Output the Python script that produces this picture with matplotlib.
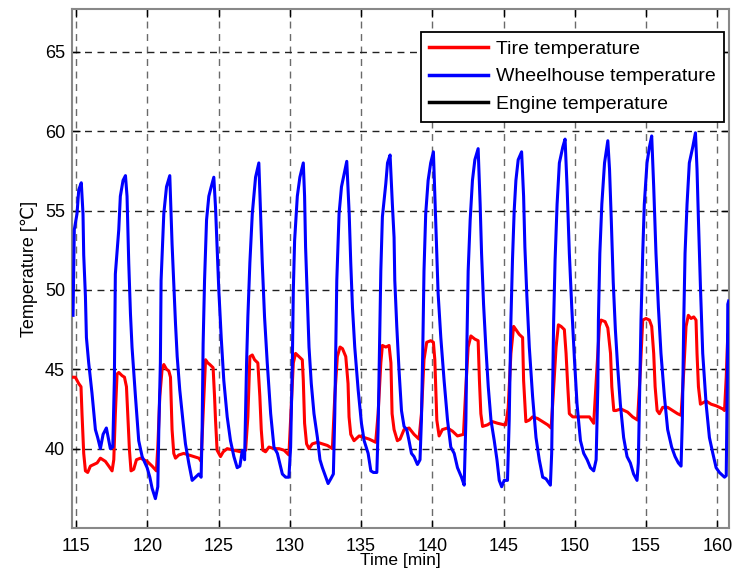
import matplotlib
matplotlib.use("Agg")
import matplotlib.pyplot as plt

plt.rcParams['font.family'] = ['Liberation Sans', 'DejaVu Sans']

# Wheelhouse temperature (blue)
wheel_t = [114.79, 114.84, 114.88, 115.07, 115.19, 115.37, 115.49, 115.54, 115.66, 115.73, 115.89, 116.12, 116.36, 116.52, 116.71, 116.90, 117.13, 117.30, 117.41, 117.58,
           117.69, 117.76, 118.00, 118.11, 118.30, 118.47, 118.58, 118.70, 118.82, 118.93, 119.17, 119.40, 119.64, 119.99, 120.18, 120.34, 120.57, 120.74,
           120.81, 120.92, 120.97, 121.16, 121.35, 121.58, 121.74, 121.86, 121.98, 122.10, 122.28, 122.52, 122.68, 122.92, 123.15, 123.39, 123.62, 123.78,
           123.85, 123.92, 124.02, 124.16, 124.32, 124.49, 124.67, 124.79, 124.90, 125.02, 125.19, 125.37, 125.61, 125.84, 126.08, 126.31, 126.50, 126.67, 126.83,
           126.97, 127.06, 127.20, 127.37, 127.60, 127.83, 127.95, 128.07, 128.23, 128.42, 128.66, 128.89, 129.13, 129.48, 129.71, 129.94,
           130.06, 130.18, 130.25, 130.34, 130.53, 130.71, 130.95, 131.04, 131.11, 131.23, 131.35, 131.51, 131.70, 131.94, 132.12, 132.29, 132.53, 132.69, 132.88, 133.06,
           133.16, 133.23, 133.30, 133.46, 133.63, 133.86, 134.00, 134.17, 134.28, 134.40, 134.56, 134.80, 135.03, 135.22, 135.50, 135.69, 135.87, 136.11,
           136.20, 136.32, 136.39, 136.50, 136.74, 136.86, 137.04, 137.20, 137.32, 137.37, 137.51, 137.67, 137.84, 138.02, 138.21, 138.37, 138.54, 138.72, 138.96, 139.14,
           139.24, 139.33, 139.42, 139.54, 139.71, 139.89, 140.08, 140.20, 140.32, 140.41, 140.60, 140.83, 141.07, 141.30, 141.54, 141.77, 142.05, 142.24,
           142.36, 142.42, 142.52, 142.66, 142.82, 142.99, 143.22, 143.36, 143.46, 143.60, 143.76, 143.93, 144.12, 144.35, 144.54, 144.70, 144.87, 145.05, 145.28,
           145.40, 145.52, 145.63, 145.75, 145.87, 146.03, 146.27, 146.41, 146.50, 146.64, 146.81, 147.04, 147.28, 147.51, 147.75, 147.98, 148.29,
           148.38, 148.45, 148.52, 148.62, 148.76, 148.92, 149.16, 149.32, 149.46, 149.62, 149.79, 149.98, 150.16, 150.40, 150.63, 150.87, 151.10, 151.33, 151.50,
           151.62, 151.66, 151.76, 151.90, 152.09, 152.32, 152.44, 152.56, 152.70, 152.85, 153.00, 153.20, 153.43, 153.67, 153.90, 154.13, 154.37,
           154.46, 154.56, 154.65, 154.77, 154.88, 155.07, 155.24, 155.40, 155.54, 155.70, 155.87, 156.05, 156.29, 156.52, 156.80, 157.04, 157.27, 157.46,
           157.55, 157.65, 157.74, 157.88, 158.04, 158.28, 158.47, 158.58, 158.68, 158.82, 158.98, 159.22, 159.45, 159.69, 159.92, 160.15, 160.51, 160.63,
           160.70, 160.74, 160.80]
wheel_T = [48.4, 51.2, 53.8, 54.8, 56.3, 56.75, 54.8, 52.2, 49.6, 47.0, 45.4, 43.5, 41.2, 40.7, 40.0, 40.9, 41.3, 40.5, 40.0, 40.1,
           44.3, 51.0, 53.8, 55.9, 56.9, 57.2, 55.9, 51.7, 48.5, 46.4, 43.3, 40.5, 39.5, 38.8, 38.2, 37.5, 36.85, 37.6,
           41.2, 45.4, 50.6, 54.8, 56.5, 57.2, 52.9, 50.4, 47.9, 45.8, 43.7, 41.6, 40.3, 39.05, 38.0, 38.2, 38.4, 38.2,
           41.2, 46.6, 50.6, 54.4, 55.9, 56.5, 57.1, 55.2, 52.7, 50.0, 47.0, 44.3, 42.0, 40.5, 39.5, 38.8, 38.9, 39.9, 39.3,
           45.4, 48.3, 51.7, 54.8, 57.1, 58.0, 54.8, 51.7, 48.3, 45.4, 42.2, 40.1, 39.7, 38.4, 38.2, 38.2,
           40.1, 45.4, 50.0, 53.1, 55.9, 57.1, 58.0, 55.9, 52.7, 49.6, 46.4, 44.1, 42.2, 40.7, 39.3, 38.8, 38.2, 37.8, 38.1, 38.4,
           42.2, 46.4, 50.6, 54.8, 56.5, 57.5, 58.1, 54.8, 51.7, 48.9, 46.4, 43.7, 41.6, 40.5, 39.7, 38.6, 38.5, 38.5,
           41.2, 47.5, 51.2, 54.6, 56.7, 58.0, 58.5, 55.4, 53.3, 50.6, 47.7, 44.9, 42.4, 41.4, 41.2, 40.5, 39.7, 39.5, 39.0, 39.3,
           41.8, 46.0, 51.2, 54.8, 56.9, 58.0, 58.7, 55.4, 52.3, 49.8, 47.0, 44.3, 41.8, 40.1, 39.7, 38.8, 38.2, 37.7,
           41.8, 46.0, 51.2, 54.4, 56.9, 58.2, 58.9, 55.4, 52.3, 49.1, 46.4, 43.9, 41.8, 40.5, 39.3, 38.0, 37.6, 38.0, 38.0,
           41.8, 48.1, 51.9, 55.0, 56.9, 58.2, 58.7, 55.9, 52.7, 49.6, 46.4, 43.3, 40.7, 39.3, 38.2, 38.1, 37.7,
           39.7, 43.9, 48.1, 51.9, 55.4, 58.0, 59.0, 59.5, 56.5, 52.3, 48.9, 45.6, 42.8, 40.5, 39.7, 39.3, 38.8, 38.6, 39.3,
           43.9, 48.1, 52.3, 55.4, 58.0, 59.4, 57.6, 54.5, 50.5, 47.5, 45.3, 42.8, 40.7, 39.5, 39.1, 38.4, 38.0,
           39.1, 43.9, 48.1, 52.3, 55.4, 58.0, 59.0, 59.7, 56.5, 52.3, 48.9, 46.0, 43.3, 41.2, 40.1, 39.5, 39.1, 38.9,
           41.8, 48.1, 52.3, 55.4, 58.0, 59.0, 59.9, 57.6, 54.4, 50.2, 46.0, 42.8, 40.7, 39.7, 38.8, 38.5, 38.2, 38.3,
           43.9, 49.1, 49.3]

# Tire temperature (red)
tire_t = [114.79, 114.95, 115.19, 115.35, 115.42, 115.54, 115.66, 115.82, 116.01, 116.48, 116.71, 117.06, 117.30, 117.53, 117.65,
          117.76, 117.88, 118.00, 118.23, 118.40, 118.54, 118.63, 118.75, 118.86, 119.05, 119.24, 119.52, 119.75, 119.99, 120.34, 120.64,
          120.74, 120.88, 121.04, 121.16, 121.35, 121.51, 121.63, 121.74, 121.86, 121.98, 122.21, 122.56, 122.92, 123.27, 123.62, 123.78,
          123.92, 124.09, 124.25, 124.39, 124.62, 124.72, 124.79, 124.90, 125.14, 125.33, 125.61, 126.08, 126.55, 126.90,
          127.06, 127.20, 127.37, 127.53, 127.76, 127.90, 128.00, 128.11, 128.30, 128.54, 128.89, 129.24, 129.60, 129.71, 129.94,
          130.11, 130.25, 130.41, 130.64, 130.88, 130.95, 131.04, 131.18, 131.35, 131.58, 131.94, 132.29, 132.64, 132.99,
          133.16, 133.34, 133.53, 133.70, 133.93, 134.09, 134.16, 134.28, 134.51, 134.87, 135.22, 135.57, 136.03,
          136.20, 136.39, 136.50, 136.74, 136.97, 137.10, 137.18, 137.32, 137.55, 137.74, 138.02, 138.37, 138.72, 139.07,
          139.24, 139.42, 139.61, 139.89, 140.08, 140.18, 140.32, 140.48, 140.71, 141.07, 141.42, 141.77, 142.19,
          142.36, 142.52, 142.71, 142.99, 143.22, 143.31, 143.41, 143.53, 143.88, 144.23, 144.58, 145.05, 145.16,
          145.33, 145.52, 145.71, 145.87, 146.10, 146.34, 146.41, 146.50, 146.57, 146.81, 147.04, 147.39, 147.75, 148.10, 148.34,
          148.45, 148.69, 148.85, 149.04, 149.27, 149.39, 149.51, 149.62, 149.86, 150.21, 150.68, 151.03, 151.33,
          151.62, 151.73, 151.85, 152.13, 152.32, 152.51, 152.60, 152.74, 152.89, 153.24, 153.71, 154.06, 154.41,
          154.60, 154.77, 155.00, 155.24, 155.40, 155.54, 155.64, 155.78, 155.94, 156.17, 156.52, 156.87, 157.22, 157.46,
          157.65, 157.81, 157.97, 158.16, 158.35, 158.51, 158.58, 158.68, 158.82, 159.22, 159.57, 159.92, 160.39, 160.51,
          160.63, 160.74, 160.86]
tire_T = [44.5, 44.5, 44.1, 43.9, 42.2, 39.7, 38.6, 38.5, 38.9, 39.1, 39.4, 39.2, 38.9, 38.6, 39.3,
          42.2, 44.7, 44.8, 44.6, 44.5, 43.9, 42.2, 39.9, 38.6, 38.7, 39.3, 39.4, 39.3, 39.2, 38.9, 38.6,
          40.1, 43.3, 45.0, 45.3, 45.0, 44.9, 44.5, 41.2, 39.7, 39.4, 39.6, 39.7, 39.6, 39.5, 39.4, 39.2,
          42.2, 45.6, 45.4, 45.3, 45.1, 43.3, 41.8, 39.9, 39.5, 39.8, 40.0, 39.9, 39.8, 39.9,
          42.0, 45.8, 45.9, 45.6, 45.4, 43.3, 41.2, 39.9, 39.8, 40.1, 40.0, 40.0, 39.9, 39.8, 39.6,
          42.8, 45.4, 46.0, 45.8, 45.6, 44.3, 41.6, 40.3, 40.0, 40.3, 40.4, 40.3, 40.2, 40.0,
          43.3, 45.8, 46.4, 46.3, 45.8, 44.1, 42.0, 40.9, 40.5, 40.8, 40.7, 40.6, 40.4,
          42.2, 45.4, 46.5, 46.4, 46.5, 45.4, 42.2, 41.2, 40.5, 40.6, 41.2, 41.3, 40.9, 40.6,
          42.2, 45.6, 46.7, 46.8, 46.7, 45.6, 41.8, 40.8, 41.2, 41.3, 41.1, 40.8, 40.9,
          43.9, 46.4, 47.1, 46.9, 46.8, 44.3, 42.2, 41.4, 41.5, 41.7, 41.6, 41.5, 41.5,
          42.6, 46.0, 47.7, 47.5, 47.2, 47.0, 44.3, 42.8, 41.7, 41.8, 42.0, 41.9, 41.7, 41.5, 41.3,
          42.8, 46.4, 47.8, 47.7, 47.5, 46.0, 43.9, 42.2, 42.0, 42.0, 42.0, 42.0, 41.6,
          46.0, 47.7, 48.1, 48.0, 47.6, 46.0, 43.9, 42.4, 42.4, 42.5, 42.3, 42.0, 41.8,
          44.9, 48.1, 48.2, 48.1, 47.7, 46.0, 43.9, 42.4, 42.2, 42.6, 42.6, 42.4, 42.2, 42.1,
          44.9, 47.7, 48.4, 48.2, 48.3, 48.1, 46.0, 43.9, 42.8, 43.0, 42.8, 42.7, 42.5, 42.4,
          44.5, 47.2, 47.4]

x_ticks = [115, 120, 125, 130, 135, 140, 145, 150, 155, 160]
y_ticks = [40, 45, 50, 55, 60, 65]

fig = plt.figure(figsize=(7.32, 5.71), dpi=100)
ax = fig.add_axes([0.0984, 0.0753, 0.898, 0.909])

ax.plot(tire_t, tire_T, color='#ff0000', lw=2.2, label='Tire temperature', zorder=3)
ax.plot(wheel_t, wheel_T, color='#0000ff', lw=2.2, label='Wheelhouse temperature', zorder=4)
ax.plot([], [], color='black', lw=2.2, label='Engine temperature')

ax.set_xlim(114.72, 160.85)
ax.set_ylim(35, 67.7)
ax.set_xticks(x_ticks)
ax.set_yticks(y_ticks)
ax.tick_params(direction='in', length=6, width=1, top=True, right=True, labelsize=13, color='black')
ax.tick_params(axis='x', pad=7)
ax.tick_params(axis='y', pad=5)
ax.xaxis.grid(True, linestyle=(0, (5, 4)), color='#6a6a6a', lw=1)
ax.yaxis.grid(True, linestyle=(0, (5, 4)), color='#222222', lw=1)
for s in ax.spines.values():
    s.set_color('#888888')
    s.set_linewidth(1.5)

ax.set_xlabel('Time [min]', fontsize=12.5, labelpad=-1)
ax.set_ylabel('Temperature [℃]', fontsize=13, labelpad=5)

leg = ax.legend(loc='upper right', bbox_to_anchor=(0.992, 0.956), borderaxespad=0,
                fontsize=14, handlelength=3.0, handletextpad=0.4, labelspacing=0.5,
                borderpad=0.45, fancybox=False, framealpha=1, edgecolor='black')
leg.get_frame().set_linewidth(1.3)
for l in leg.get_lines():
    l.set_linewidth(2.5)

fig.savefig('out.png', dpi=100)
